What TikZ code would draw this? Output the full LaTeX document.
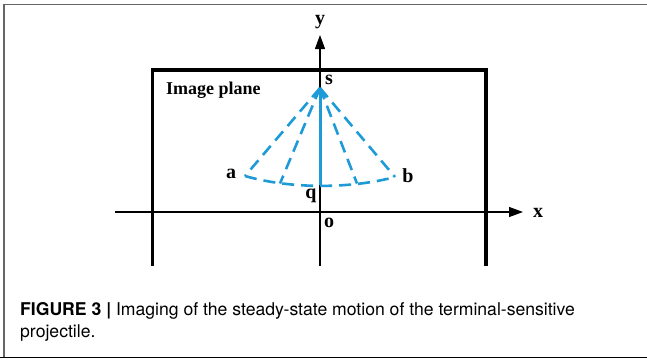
\documentclass[tikz,border=0pt]{standalone}
\usepackage{fontspec}
\setmainfont{Liberation Serif}
\newfontfamily\capfont{TeX Gyre Heros}
\usetikzlibrary{arrows.meta}
\definecolor{c1}{HTML}{000000}
\definecolor{c2}{HTML}{1E9BD7}
\definecolor{framecolor}{HTML}{666666}

\begin{document}
\begin{tikzpicture}[
    x=1pt, y=-1pt,
    every node/.style={font=\fontsize{20}{22}\selectfont\bfseries, inner sep=0pt},
    plane/.style={c1, line width=3.8pt},
    axis/.style={c1, line width=1.2pt, -{Triangle[length=14pt, width=10pt]}},
    ray/.style={c2, line width=2.6pt, dash pattern=on 12pt off 7pt},
    beam/.style={c2, line width=3pt, -{Straight Barb[length=7pt, width=12pt, line width=2.8pt]}},
    captext/.style={font=\capfont\fontsize{17.6}{20}\selectfont, anchor=base west},
]
\useasboundingbox (0,0) rectangle (647,359);

% ============================================================ page frame
\draw[framecolor, line width=1.6pt] (3,4.5) -- (647,4.5);
\draw[framecolor, line width=1.2pt] (4,4.5) -- (4,357);
\draw[c1, line width=1.4pt] (0,357.6) -- (647,357.6);

% ============================================================ image plane
\draw[plane] (152.5,266) -- (152.5,70) -- (486,70) -- (486,266);
\node[anchor=base west, font=\fontsize{18}{20}\selectfont\bfseries] (title) at (166,94) {Image plane};

% axes
\coordinate (o) at (320,212);
\draw[axis] (115,212) -- (523,212);
\draw[axis] (320,266) -- (320,35);
\node (xlab) at (538,213) {x};
\node (ylab) at (320,22) {y};
\node (olab) at (329,223) {o};

% ============================================================ the cone of rays
\coordinate (s) at (320,88);
\coordinate (q) at (320,185);
\coordinate (a) at (245,176);
\coordinate (b) at (395,177);
\coordinate (m1) at (280,183.5);
\coordinate (m2) at (357,183.5);

\draw[ray] (a) .. controls (290,189) and (350,189) .. (b);
\draw[ray] (s) -- (a);
\draw[ray] (s) -- (m1);
\draw[ray] (s) -- (m2);
\draw[ray] (s) -- (b);
\draw[beam] (q) -- (s);

\node (slab) at (329,80) {s};
\node (qlab) at (311,196) {q};
\node (alab) at (231,174) {a};
\node (blab) at (408,176) {b};

% ============================================================ caption
\node[captext] (cap1) at (20,315)
    {\bfseries FIGURE 3 \textbar\ \mdseries Imaging of the steady-state motion of the terminal-sensitive};
\node[captext] (cap2) at (20,337) {projectile.};

\end{tikzpicture}
\end{document}
